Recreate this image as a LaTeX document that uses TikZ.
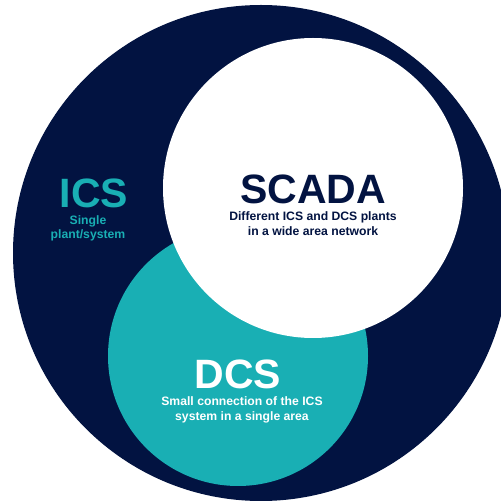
\documentclass[tikz,border=0pt]{standalone}
\usepackage{fontspec}
\setmainfont{Liberation Sans}
\definecolor{navy}{HTML}{021341}
\definecolor{teal2}{HTML}{19AFB4}
\tikzset{
  big/.style={font=\bfseries\fontsize{41}{41}\selectfont, anchor=base, inner sep=0pt},
  small/.style={font=\bfseries\fontsize{12.2}{14}\selectfont, anchor=base, inner sep=0pt},
}
\begin{document}
\begin{tikzpicture}[x=1pt,y=1pt]
\useasboundingbox (0,0) rectangle (501,501);
\clip (0,0) rectangle (501,501);
\fill[white] (0,0) rectangle (501,501);
\fill[navy] (261,248) circle (248);
\fill[teal2] (238,145) circle (130);
\fill[white] (313,313) circle (150);
\node[big, text=teal2] (ics) at (94,293) {ICS};
\node[small, text=teal2] (ics1) at (88,276) {Single};
\node[small, text=teal2] (ics2) at (88,262) {plant/system};
\node[big, text=navy] (scada) at (313,297) {SCADA};
\node[small, text=navy] (scada1) at (313,280) {Different ICS and DCS plants};
\node[small, text=navy] (scada2) at (313,265) {in a wide area network};
\node[big, text=white] (dcs) at (238,112) {DCS};
\node[small, text=white] (dcs1) at (242,95) {Small connection of the ICS};
\node[small, text=white] (dcs2) at (242,80) {system in a single area};
\end{tikzpicture}
\end{document}
